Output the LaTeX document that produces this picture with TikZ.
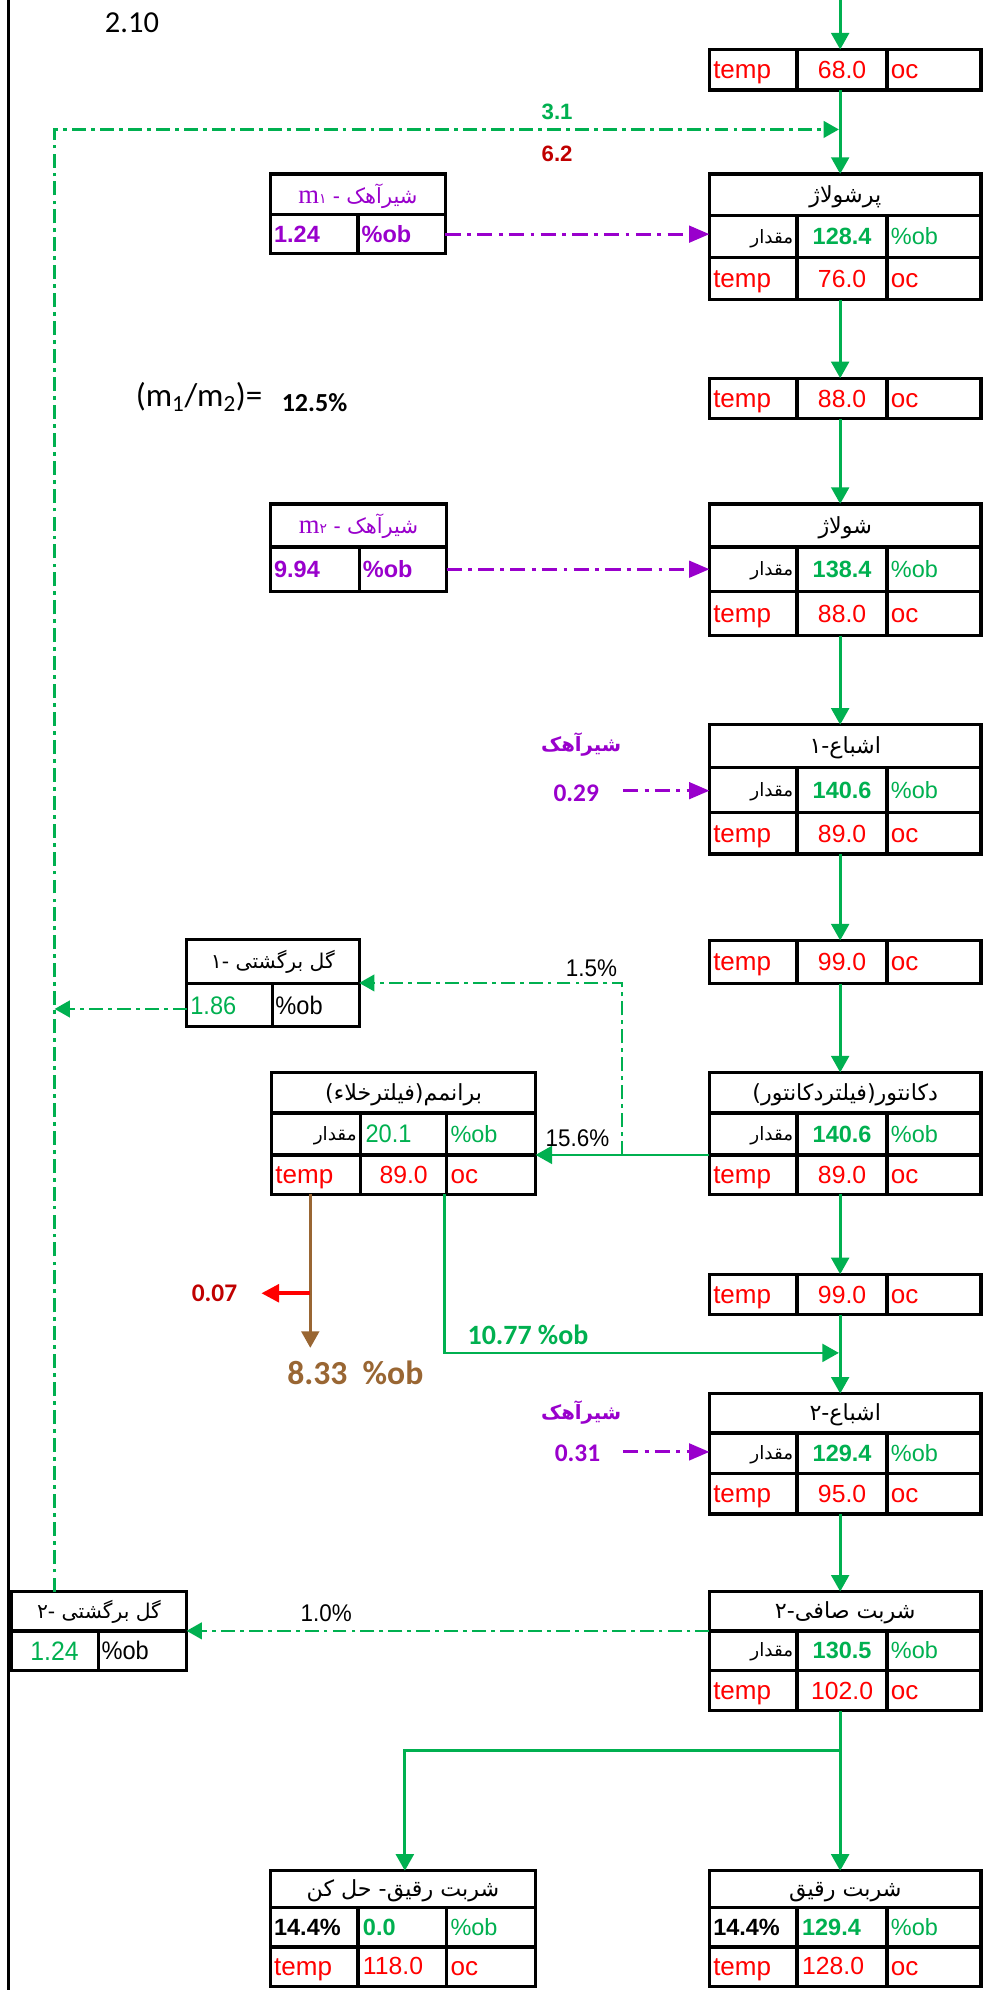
\documentclass[tikz,border=0pt]{standalone}
\usepackage{fontspec}
\usetikzlibrary{arrows.meta}
\setmainfont{Liberation Sans}
\newfontfamily\narf[FakeStretch=0.93]{Liberation Sans}
\newfontfamily\calf{Carlito}
\newfontfamily\tmsf{Liberation Serif}
\newfontfamily\faf[Script=Arabic]{DejaVu Sans}
\TeXXeTstate=1
\definecolor{gr}{HTML}{00B050}
\definecolor{pu}{HTML}{9900CC}
\definecolor{dr}{HTML}{C00000}
\definecolor{br}{HTML}{996633}
\newcommand\fs[1]{\fontsize{#1}{#1}\selectfont}
\tikzset{
 frame/.style={draw, line width=2.6pt, inner sep=0pt, outer sep=0pt, anchor=north west},
 gl/.style={line width=2.6pt},
 txt/.style={inner sep=0pt, outer sep=0pt},
 tmp/.style={txt, text=red, font=\fs{20.5}, anchor=base west},
 rnum/.style={txt, text=red, font=\fs{19.5}, anchor=base},
 gnum/.style={txt, text=gr, font=\bfseries\fs{18.5}, anchor=base},
 gob/.style={txt, text=gr, font=\fs{18.5}, anchor=base west},
 mq/.style={txt, font=\faf\fs{14.5}, anchor=base east},
 ttl/.style={txt, font=\faf\fs{17.5}, anchor=base},
 garrow/.style={draw=gr, line width=2.2pt, -{Triangle[length=13pt,width=14pt]}},
 gdash/.style={draw=gr, line width=2pt, dash pattern=on 11pt off 4pt on 3pt off 4pt},
 gdarrow/.style={gdash, -{Triangle[length=12pt,width=13pt]}},
 pdarrow/.style={draw=pu, line width=2.4pt, dash pattern=on 12pt off 5pt on 3pt off 5pt, -{Triangle[length=16pt,width=13pt]}},
 brarrow/.style={draw=br, line width=2pt, -{Triangle[length=13pt,width=14pt]}},
 rarrow/.style={draw=red, line width=3pt, -{Triangle[length=14pt,width=14pt]}},
}
\newcommand\temprow[3]{%
 \node[tmp] (#1ta) at (562,{#2+7}) {temp};
 \node[rnum] (#1tb) at (663.5,{#2+7}) {#3};
 \node[tmp] (#1tc) at (702,{#2+7}) {oc};}
\newcommand\obrow[3]{%
 \node[mq] (#1qa) at (625,{#2+5}) {\beginR مقدار\endR};
 \node[gnum] (#1qb) at (663.5,{#2+6.5}) {#3};
 \node[gob] (#1qc) at (702,{#2+6.5}) {\%ob};}
\newcommand\rbox[8]{%
 \node[frame, minimum width=214pt, minimum height={(#5-#2)*1pt}] (#1) at (559,#2) {};
 \draw[gl] (559,#3) -- (773,#3) (559,#4) -- (773,#4) (628,#3) -- (628,#5) (699,#3) -- (699,#5);
 \node[ttl] (#1h) at (666,{(#2+#3)/2+6}) {#6};
 \obrow{#1}{(#3+#4)/2}{#7}
 \temprow{#1}{(#4+#5)/2}{#8}}
\newcommand\tbox[4]{%
 \node[frame, minimum width=214pt, minimum height={(#3-#2)*1pt}] (#1) at (559,#2) {};
 \draw[gl] (628,#2) -- (628,#3) (699,#2) -- (699,#3);
 \temprow{#1}{(#2+#3)/2}{#4}}
\begin{document}
\begin{tikzpicture}[x=1pt,y=-1pt]
\useasboundingbox (0,0) rectangle (774,1568);
\fill[white] (0,0) rectangle (774,1568);
\draw[line width=2.4pt] (7,0) -- (7,1568);
% right column
\tbox{T1}{39}{71}{68.0}
\rbox{P1}{137}{170}{203}{236}{\beginR پرشولاژ\endR}{128.4}{76.0}
\tbox{T2}{298}{330}{88.0}
\rbox{P2}{397}{431}{466}{501}{\beginR شولاژ\endR}{138.4}{88.0}
\rbox{S1}{571}{605}{640}{673}{\beginR اشباع-۱\endR}{140.6}{89.0}
\tbox{T3}{741}{775}{99.0}
\rbox{D}{845}{877}{910}{941}{\beginR دکانتور(فیلتردکانتور)\endR}{140.6}{89.0}
\tbox{T4}{1004}{1036}{99.0}
\rbox{S2}{1098}{1129}{1161}{1193}{\beginR اشباع-۲\endR}{129.4}{95.0}
\rbox{SS}{1254}{1285}{1316}{1348}{\beginR شربت صافی-۲\endR}{130.5}{102.0}
% R box
\node[frame, minimum width=214pt, minimum height=91pt] (R) at (559,1474) {};
\draw[gl] (559,1503) -- (773,1503) (559,1534) -- (773,1534) (628,1503) -- (628,1565) (699,1503) -- (699,1565);
\node[ttl] (Rh) at (666,1494.5) {\beginR شربت رقیق\endR};
\node[txt, font=\bfseries\fs{18.5}, anchor=base west] (Ra) at (562,1525) {14.4\%};
\node[gnum, anchor=base west] (Rb) at (632,1525) {129.4};
\node[gob] (Rc) at (702,1525) {\%ob};
\node[tmp] (Rd) at (562,1556.5) {temp};
\node[rnum, anchor=base west] (Re) at (632,1556) {128.0};
\node[tmp] (Rf) at (702,1556.5) {oc};
% RH box
\node[frame, minimum width=209pt, minimum height=91pt] (RH) at (213,1474) {};
\draw[gl] (213,1503) -- (422,1503) (213,1534) -- (422,1534) (282,1503) -- (282,1565) (352,1503) -- (352,1565);
\node[ttl] (RHh) at (317.5,1494.5) {\beginR شربت رقیق- حل کن\endR};
\node[txt, font=\bfseries\fs{18.5}, anchor=base west] (RHa) at (216,1525) {14.4\%};
\node[gnum, anchor=base west] (RHb) at (286,1525) {0.0};
\node[gob] (RHc) at (355,1525) {\%ob};
\node[tmp] (RHd) at (216,1556.5) {temp};
\node[rnum, anchor=base west] (RHe) at (286,1556) {118.0};
\node[tmp] (RHf) at (355,1556.5) {oc};
% m1 box
\node[frame, minimum width=138pt, minimum height=63pt] (M1) at (213,137) {};
\draw[gl] (213,169) -- (351,169) (282,169) -- (282,200);
\node[txt, text=pu, anchor=base] (M1h) at (282,160) {{\tmsf\fs{21}m}{\faf\fs{11}۱}\hspace{5pt}{\fs{17}-}\hspace{5pt}{\faf\fs{16.5}\beginR شیرآهک\endR}};
\node[txt, text=pu, font=\bfseries\fs{18.5}, anchor=base west] (M1a) at (216,191) {1.24};
\node[txt, text=pu, font=\bfseries\fs{18.5}, anchor=base west] (M1b) at (285,191) {\%ob};
% m2 box
\node[frame, minimum width=139pt, minimum height=69pt] (M2) at (213,397) {};
\draw[gl] (213,431) -- (352,431) (283,431) -- (283,466);
\node[txt, text=pu, anchor=base] (M2h) at (282.5,420) {{\tmsf\fs{21}m}{\faf\fs{11}۲}\hspace{5pt}{\fs{17}-}\hspace{5pt}{\faf\fs{16.5}\beginR شیرآهک\endR}};
\node[txt, text=pu, font=\bfseries\fs{18.5}, anchor=base west] (M2a) at (216,455) {9.94};
\node[txt, text=pu, font=\bfseries\fs{18.5}, anchor=base west] (M2b) at (286,455) {\%ob};
% G1 box
\node[frame, minimum width=136pt, minimum height=69pt] (G1) at (147,740) {};
\draw[gl] (147,775) -- (283,775) (214.5,775) -- (214.5,809);
\node[ttl, font=\faf\fs{16}] (G1h) at (215,763.5) {\beginR گل برگشتی -۱\endR};
\node[txt, text=gr, font=\narf\fs{20}, anchor=base west] (G1a) at (150,799) {1.86};
\node[txt, font=\narf\fs{20}, anchor=base west] (G1b) at (217,799) {\%ob};
% V box
\node[frame, minimum width=208pt, minimum height=96pt] (V) at (214,845) {};
\draw[gl] (214,877) -- (422,877) (214,910) -- (422,910) (284,877) -- (284,941) (352,877) -- (352,941);
\node[ttl] (Vh) at (318,867) {\beginR برانمم(فیلترخلاء)\endR};
\node[mq] (Va) at (281,898.5) {\beginR مقدار\endR};
\node[txt, text=gr, font=\narf\fs{20}, anchor=base west] (Vb) at (288,900.5) {20.1};
\node[gob] (Vc) at (355,900) {\%ob};
\node[tmp] (Vd) at (217,932.5) {temp};
\node[rnum] (Ve) at (318,932.5) {89.0};
\node[tmp] (Vf) at (355,932.5) {oc};
% G2 box
\node[frame, minimum width=138pt, minimum height=62pt] (G2) at (9,1254) {};
\draw[gl] (9,1285) -- (147,1285) (77.5,1285) -- (77.5,1316);
\node[ttl, font=\faf\fs{16}] (G2h) at (78,1275.5) {\beginR گل برگشتی -۲\endR};
\node[txt, text=gr, font=\narf\fs{21}, anchor=base] (G2a) at (43,1308.5) {1.24};
\node[txt, font=\narf\fs{20}, anchor=base west] (G2b) at (80,1307.5) {\%ob};
% coordinates
\coordinate (ax) at (662,0);
\coordinate (top) at (662,0);
\coordinate (lx) at (43,0);
\coordinate (jn) at (661,102);
\coordinate (g1row) at (0,795);
\coordinate (dv) at (490,910);
\coordinate (dvrow) at (0,910);
\coordinate (bx) at (244.5,0);
\coordinate (bend) at (244.5,1062);
\coordinate (rs) at (244.5,1019);
\coordinate (re) at (206,1019);
\coordinate (vx) at (350,0);
\coordinate (m10) at (661,1066);
\coordinate (m1row) at (0,184.5);
\coordinate (m2row) at (0,448.5);
\coordinate (s1p) at (491,623);
\coordinate (s2p) at (491,1144);
\coordinate (ssrow) at (0,1285);
\coordinate (br) at (662,1379);
\coordinate (ax2) at (319,0);
% main flow
\draw[garrow] (top) -- (T1.north -| ax);
\draw[garrow] (T1.south -| ax) -- (P1.north -| ax);
\draw[garrow] (P1.south -| ax) -- (T2.north -| ax);
\draw[garrow] (T2.south -| ax) -- (P2.north -| ax);
\draw[garrow] (P2.south -| ax) -- (S1.north -| ax);
\draw[garrow] (S1.south -| ax) -- (T3.north -| ax);
\draw[garrow] (T3.south -| ax) -- (D.north -| ax);
\draw[garrow] (D.south -| ax) -- (T4.north -| ax);
\draw[garrow] (T4.south -| ax) -- (S2.north -| ax);
\draw[garrow] (S2.south -| ax) -- (SS.north -| ax);
\draw[garrow] (SS.south -| ax) -- (R.north -| ax);
\draw[garrow] (br) -| (RH.north -| ax2);
% recycle
\draw[gdarrow] (G2.north -| lx) |- (jn);
\draw[gdarrow] (G1.west |- g1row) -- (lx |- g1row);
\draw[gdarrow] (dv) |- (G1.east);
\draw[garrow] (D.west |- dvrow) -- (V.east |- dvrow);
\draw[gdarrow] (SS.west |- ssrow) -- (G2.east |- ssrow);
\draw[brarrow] (V.south -| bx) -- (bend);
\draw[rarrow] (rs) -- (re);
\draw[garrow] (V.south -| vx) |- (m10);
% lime
\draw[pdarrow] (M1.east |- m1row) -- (P1.west |- m1row);
\draw[pdarrow] (M2.east |- m2row) -- (P2.west |- m2row);
\draw[pdarrow] (s1p) -- (S1.west |- s1p);
\draw[pdarrow] (s2p) -- (S2.west |- s2p);
% labels
\node[txt, font=\calf\fs{24}] (l210) at (104,18) {2.10};
\node[txt, font=\calf\fs{26}, anchor=west] (ratio) at (107,313) {(m\textsubscript{1}/m\textsubscript{2})=};
\node[txt, font=\calf\bfseries\fs{20.5}, anchor=west] (ratiov) at (222,317) {12.5\%};
\node[txt, text=gr, font=\bfseries\fs{17.5}] (l31) at (439,88) {3.1};
\node[txt, text=dr, font=\bfseries\fs{17.5}] (l62) at (439,121) {6.2};
\node[txt, text=pu, font=\faf\bfseries\fs{15.5}] (lime1) at (458,587) {\beginR شیرآهک\endR};
\node[txt, text=pu, font=\calf\bfseries\fs{20}] (v029) at (454,625) {0.29};
\node[txt, text=pu, font=\faf\bfseries\fs{15.5}] (lime2) at (458,1113) {\beginR شیرآهک\endR};
\node[txt, text=pu, font=\calf\bfseries\fs{20}] (v031) at (455,1145) {0.31};
\node[txt, font=\narf\fs{19}] (p15) at (466,763) {1.5\%};
\node[txt, font=\narf\fs{19}] (p156) at (455,897) {15.6\%};
\node[txt, text=dr, font=\calf\bfseries\fs{20}] (v007) at (169,1019) {0.07};
\node[txt, text=br, font=\calf\bfseries\fs{26.5}] (v833) at (280,1082) {8.33\ \ \%ob};
\node[txt, text=gr, font=\calf\bfseries\fs{22}] (v1077) at (416,1052) {10.77 \%ob};
\node[txt, font=\narf\fs{19}] (p10) at (257,1271) {1.0\%};
\end{tikzpicture}
\end{document}
